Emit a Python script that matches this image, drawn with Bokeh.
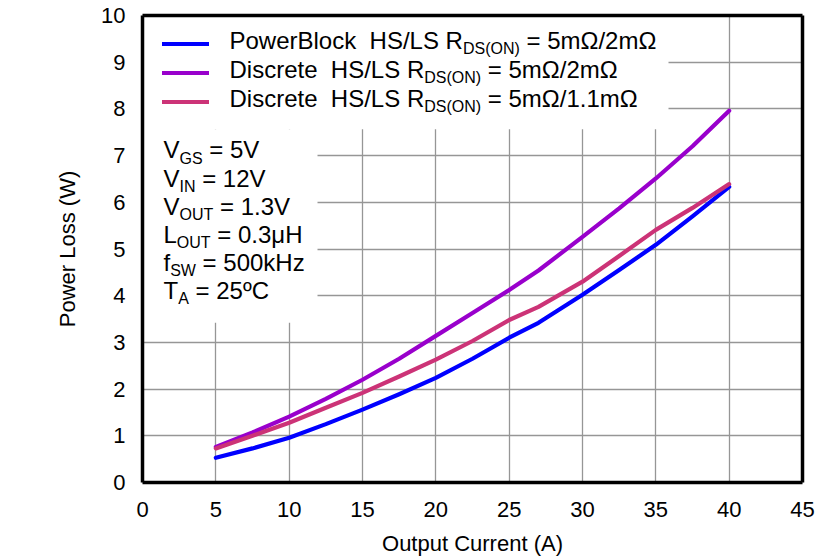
from bokeh.plotting import figure
from bokeh.models import (Label, Legend, LegendItem, BoxAnnotation, LinearAxis,
                          FixedTicker, Range1d)
from bokeh.embed import file_html
from bokeh.resources import INLINE

# ---------------- data ----------------
current = [5, 7.5, 10, 12.5, 15, 17.5, 20, 22.5, 25, 27, 30, 32.5, 35, 37.5, 40]
powerblock = [0.53, 0.73, 0.96, 1.25, 1.56, 1.89, 2.24, 2.65, 3.10, 3.42, 4.02, 4.55, 5.09, 5.70, 6.33]
discrete_2m = [0.76, 1.07, 1.41, 1.79, 2.20, 2.65, 3.14, 3.63, 4.12, 4.54, 5.26, 5.87, 6.51, 7.20, 7.96]
discrete_1m1 = [0.73, 1.00, 1.28, 1.60, 1.92, 2.27, 2.63, 3.03, 3.48, 3.76, 4.30, 4.85, 5.41, 5.88, 6.39]

x_ticks = [0, 5, 10, 15, 20, 25, 30, 35, 40, 45]
y_ticks = [0, 1, 2, 3, 4, 5, 6, 7, 8, 9, 10]

series_colors = ["#0000FF", "#9900CC", "#CC3377"]

NB = "\u00a0"
legend_lines = [
    [("PowerBlock  HS/LS R", False), ("DS(ON)", True), (" = 5m\u03a9/2m\u03a9", False)],
    [("Discrete  HS/LS R", False), ("DS(ON)", True), (" = 5m\u03a9/2m\u03a9", False)],
    [("Discrete  HS/LS R", False), ("DS(ON)", True), (" = 5m\u03a9/1.1m\u03a9", False)],
]
cond_lines = [
    [("V", False), ("GS", True), (" = 5V", False)],
    [("V", False), ("IN", True), (" = 12V", False)],
    [("V", False), ("OUT", True), (" = 1.3V", False)],
    [("L", False), ("OUT", True), (" = 0.3\u03bcH", False)],
    [("f", False), ("SW", True), (" = 500kHz", False)],
    [("T", False), ("A", True), (" = 25\u00baC", False)],
]

FONT = "Liberation Sans"
X0, X1, Y0, Y1 = 0, 45, 0, 10

# frame geometry (figure pixels) used to place text
FL, FR, FT, FB = 142, 802, 15, 483
FIG_W, FIG_H = 835, 558

def xd(px):
    return (px - FL) / (FR - FL) * (X1 - X0) + X0

def yd(py):
    return (FB - py) / (FB - FT) * (Y1 - Y0) + Y0

# Arial / Liberation Sans advance widths (per 1000 em)
W = {' ': 278, '\u00a0': 278, '(': 333, ')': 333, '.': 278, '/': 278, '=': 584,
     'A': 667, 'B': 667, 'C': 722, 'D': 722, 'G': 778, 'H': 722, 'I': 278,
     'L': 556, 'N': 722, 'O': 778, 'P': 667, 'R': 722, 'S': 667, 'T': 611,
     'U': 722, 'V': 667, 'W': 944, 'a': 556, 'c': 500, 'e': 556, 'f': 278,
     'i': 222, 'k': 500, 'l': 222, 'm': 833, 'o': 556, 'r': 333, 's': 500,
     't': 278, 'w': 722, 'z': 500, '\u03bc': 576, '\u03a9': 768, '\u00b0': 400,
     '\u00ba': 365}

def text_w(s, size):
    return sum(W.get(ch, 556) for ch in s) * size / 1000.0

# ---------------- figure ----------------
p = figure(width=FIG_W, height=FIG_H, output_backend="svg", toolbar_location=None,
           x_range=Range1d(X0, X1), y_range=Range1d(Y0, Y1),
           min_border_left=FL, min_border_right=FIG_W - FR, min_border_top=FT,
           min_border_bottom=FIG_H - FB)
p.outline_line_color = None
p.background_fill_color = "white"
p.border_fill_color = "white"

p.xaxis.ticker = FixedTicker(ticks=x_ticks)
p.yaxis.ticker = FixedTicker(ticks=y_ticks)
p.xgrid.ticker = FixedTicker(ticks=x_ticks)
p.ygrid.ticker = FixedTicker(ticks=y_ticks)
for g in (p.xgrid, p.ygrid):
    g.grid_line_color = "#969696"
    g.grid_line_width = 1.3

for ax in (p.xaxis[0], p.yaxis[0]):
    ax.axis_line_color = "black"
    ax.axis_line_width = 3.5
    ax.major_tick_line_color = None
    ax.minor_tick_line_color = None
    ax.major_tick_out = 0
    ax.major_tick_in = 0
    ax.major_label_text_font = FONT
    ax.major_label_text_font_size = "22px"
    ax.major_label_text_color = "black"
    ax.axis_label_text_font = FONT
    ax.axis_label_text_font_size = "22px"
    ax.axis_label_text_font_style = "normal"
    ax.axis_label_text_color = "black"

p.xaxis.axis_label = "Output Current (A)"
p.yaxis.axis_label = "Power Loss (W)"
p.xaxis.major_label_standoff = 19
p.xaxis.axis_label_standoff = 11
p.yaxis.major_label_standoff = 17
p.yaxis.axis_label_standoff = 18

for side in ("right", "above"):
    a = LinearAxis(ticker=FixedTicker(ticks=[]), axis_line_color="black",
                   axis_line_width=3.5, major_tick_line_color=None,
                   minor_tick_line_color=None, major_tick_out=0, major_tick_in=0,
                   major_label_standoff=0, major_label_text_font_size="0px")
    p.add_layout(a, side)

# white boxes behind legend and condition text
leg_box = BoxAnnotation(left=X0, right=xd(668), bottom=yd(129), top=Y1,
                        fill_color="white", fill_alpha=1, line_color=None,
                        level="underlay")
cond_box = BoxAnnotation(left=X0, right=xd(317), bottom=yd(323), top=yd(129),
                         fill_color="white", fill_alpha=1, line_color=None,
                         level="underlay")
p.add_layout(leg_box)
p.add_layout(cond_box)

# curves
rs = []
for ys, col in zip([powerblock, discrete_2m, discrete_1m1], series_colors):
    r = p.line(current, ys, line_color=col, line_width=4.2, line_join="round",
               line_cap="round")
    rs.append(r)

# legend glyph samples
legend = Legend(items=[LegendItem(label=" ", renderers=[r]) for r in rs],
                location="top_left", margin=20, padding=0, spacing=12,
                glyph_width=47, glyph_height=17, label_height=17,
                label_width=20, label_standoff=5,
                label_text_font_size="1px", border_line_color=None,
                background_fill_color="white", background_fill_alpha=0,
                level="underlay")
p.add_layout(legend, "center")

# text with subscripts
def add_rich(segments, x_px, base_px, size, sub_size, sub_drop):
    x = x_px
    for txt, is_sub in segments:
        fs = sub_size if is_sub else size
        by = base_px + (sub_drop if is_sub else 0) - 0.36 * fs
        t = txt.replace(" ", NB)
        p.add_layout(Label(x=xd(x), y=yd(by), text=t, text_font=FONT,
                           text_font_size=f"{fs}px", text_color="black",
                           text_baseline="alphabetic", text_align="left"))
        x += text_w(t, fs)

for i, segs in enumerate(legend_lines):
    add_rich(segs, 229, 48.8 + 28.9 * i, 24, 16, 5.5)

for i, segs in enumerate(cond_lines):
    add_rich(segs, 163, 158.3 + 28.2 * i, 24, 16, 5.5)

open("out.html", "w").write(file_html(p, INLINE))
